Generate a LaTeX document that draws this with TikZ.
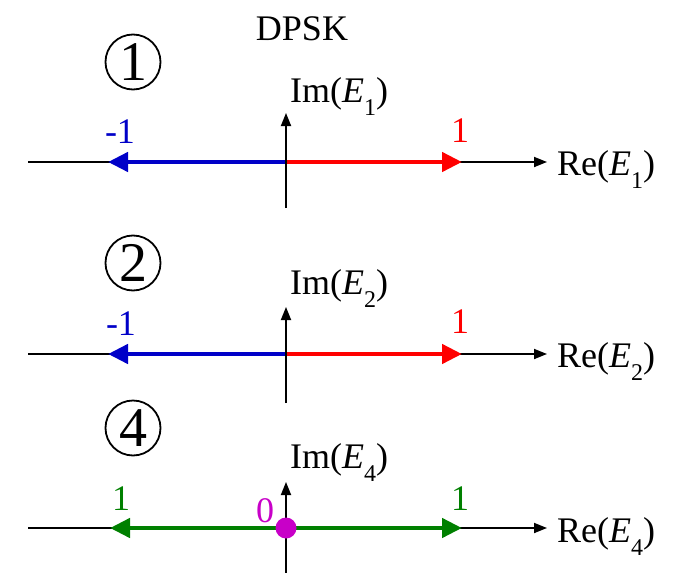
\documentclass[tikz,border=0pt]{standalone}
\usepackage{fontspec}
\setmainfont{Liberation Serif}
\usetikzlibrary{arrows.meta, positioning}
\definecolor{dpskblue}{RGB}{0,0,200}
\definecolor{dpskred}{RGB}{255,0,0}
\definecolor{dpskgreen}{RGB}{0,128,0}
\definecolor{dpskmag}{RGB}{200,0,200}
\newcommand{\axsub}[1]{\raisebox{-13pt}{\fontsize{24}{24}\selectfont #1}}
\tikzset{
  axis/.style={line width=1.8pt, -{Triangle[length=13pt,width=10pt]}},
  phasor/.style={line width=4.5pt, -{Triangle[length=20pt,width=19pt]}},
  lbl/.style={inner sep=0pt, anchor=base, font=\fontsize{36}{36}\selectfont},
  num/.style={circle, draw, line width=1.8pt, minimum size=55pt, inner sep=0pt, font=\fontsize{56}{56}\selectfont}
}

\begin{document}
\begin{tikzpicture}[x=1pt, y=-1pt]
        \useasboundingbox (0,0) rectangle (673,573);

        \node (title) [lbl] at (302,40) {DPSK};

        % === 1 ===
        \coordinate (o1) at (286,162);
        \coordinate (xl1) at (28,162);
        \coordinate (xr1) at (547,162);
        \coordinate (yb1) at (286,208);
        \coordinate (yt1) at (286,113);
        \coordinate (m1) at (108,162);
        \coordinate (p1) at (462,162);
        \node (num1) [num] at (133,62) {1};
        \node (im1) [lbl, anchor=base west] at (290,102) {Im(\textit{E}\axsub{1})};
        \node (re1) [lbl, anchor=base west] at (557,175) {Re(\textit{E}\axsub{1})};
        \node (neg1) [lbl, text=dpskblue] at (120,143) {-1};
        \node (pos1) [lbl, text=dpskred] at (460,142) {1};

        \draw [axis] (xl1) -- (xr1);
        \draw [phasor, dpskblue] (o1) -- (m1);
        \draw [phasor, dpskred] (o1) -- (p1);
        \draw [axis] (yb1) -- (yt1);

        % === 2 ===
        \coordinate (o2) at (286,354);
        \coordinate (xl2) at (28,354);
        \coordinate (xr2) at (547,354);
        \coordinate (yb2) at (286,403);
        \coordinate (yt2) at (286,307);
        \coordinate (m2) at (108,354);
        \coordinate (p2) at (462,354);
        \node (num2) [num] at (133,263) {2};
        \node (im2) [lbl, anchor=base west] at (290,294) {Im(\textit{E}\axsub{2})};
        \node (re2) [lbl, anchor=base west] at (557,367) {Re(\textit{E}\axsub{2})};
        \node (neg2) [lbl, text=dpskblue] at (121,335) {-1};
        \node (pos2) [lbl, text=dpskred] at (460,333) {1};

        \draw [axis] (xl2) -- (xr2);
        \draw [phasor, dpskblue] (o2) -- (m2);
        \draw [phasor, dpskred] (o2) -- (p2);
        \draw [axis] (yb2) -- (yt2);

        % === 4 ===
        \coordinate (o4) at (286,528);
        \coordinate (xl4) at (28,528);
        \coordinate (xr4) at (547,528);
        \coordinate (yb4) at (286,573);
        \coordinate (yt4) at (286,482);
        \coordinate (m4) at (110,528);
        \coordinate (p4) at (462,528);
        \node (num4) [num] at (133,428) {4};
        \node (im4) [lbl, anchor=base west] at (290,468) {Im(\textit{E}\axsub{4})};
        \node (re4) [lbl, anchor=base west] at (557,542) {Re(\textit{E}\axsub{4})};
        \node (neg4) [lbl, text=dpskgreen] at (121,510) {1};
        \node (pos4) [lbl, text=dpskgreen] at (460,510) {1};
        \node (zero4) [lbl, text=dpskmag] at (265,522) {0};

        \draw [axis] (xl4) -- (xr4);
        \draw [phasor, dpskgreen] (o4) -- (m4);
        \draw [phasor, dpskgreen] (o4) -- (p4);
        \draw [axis] (yb4) -- (yt4);
        \fill [dpskmag] (o4) circle (10.5);

    \end{tikzpicture}
\end{document}
